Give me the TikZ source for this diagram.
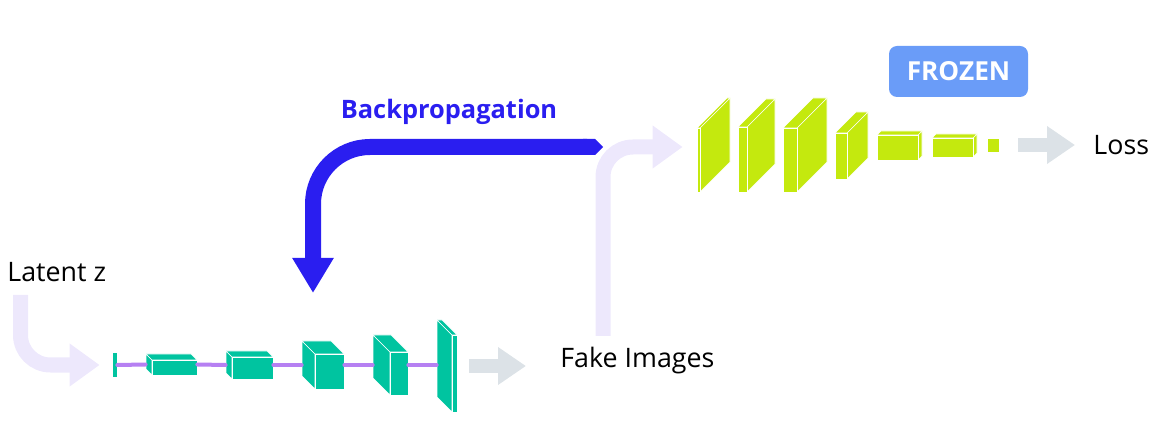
\documentclass[tikz,border=0pt]{standalone}
\usepackage{fontspec}
\setmainfont{Open Sans}
\usepackage{tikz}
\usetikzlibrary{arrows.meta}

\definecolor{genteal}{RGB}{0,196,160}
\definecolor{disclime}{RGB}{196,233,14}
\definecolor{linkpurple}{RGB}{182,128,242}
\definecolor{softlavender}{RGB}{237,232,252}
\definecolor{arrowgrey}{RGB}{220,226,231}
\definecolor{backblue}{RGB}{42,30,240}
\definecolor{frozenblue}{RGB}{106,156,248}

% name, front x, front y, width, height, depth (signed), colour
\newcommand{\layer}[7]{%
  \pgfmathsetmacro\sidex{#6>0 ? #2+#4 : #2}%
  \fill[#7, draw=white, line width=0.3pt] (\sidex,#3) -- ++({#6},{-abs(#6)}) -- ++(0,#5) -- ++({-(#6)},{abs(#6)}) -- cycle;
  \fill[#7, draw=white, line width=0.3pt] (#2,#3) -- ++({#6},{-abs(#6)}) -- ++(#4,0) -- ++({-(#6)},{abs(#6)}) -- cycle;
  \fill[#7, draw=white, line width=0.3pt] (#2,#3) rectangle ++(#4,#5);
  \node (#1) at ({#2+min(0,#6)+(#4+abs(#6))/2},{#3+(#5-abs(#6))/2}) [layerbox, minimum width={(#4+abs(#6))*0.5pt}, minimum height={(#5+abs(#6))*0.5pt}] {};
}

\begin{document}
\begin{tikzpicture}[x=0.5pt, y=-0.5pt,
        textlabel/.style={inner sep=0pt, font=\fontsize{13.4}{16}\selectfont},
        layerbox/.style={inner sep=0pt},
        frozenbox/.style={fill=frozenblue, rounded corners=4pt, inner sep=0pt, minimum width=69.5pt, minimum height=25.5pt, text=white, font=\bfseries\fontsize{13.1}{16}\selectfont},
        softarrow/.style={draw=softlavender, line width=7.5pt, rounded corners=15pt, -{Triangle[length=15pt, width=20.5pt]}},
        greyarrow/.style={draw=arrowgrey, line width=7pt, -{Triangle[length=14pt, width=18pt]}},
        backarrow/.style={draw=backblue, line width=8pt, rounded corners=28.5pt, {Triangle Cap}-{Triangle[length=17.5pt, width=19.5pt]}},
        link/.style={draw=linkpurple, line width=2pt, line cap=round},
    ]
    \useasboundingbox (0,0) rectangle (1159,426);

    \node (bar) at (115,365) [layerbox, fill=genteal, minimum width=2pt, minimum height=12pt] {};
    \layer{g1}{152}{360}{45}{15}{-6}{genteal}
    \layer{g2}{232}{357}{41}{22}{-6}{genteal}
    \layer{g3}{315}{354}{29}{35}{-13}{genteal}
    \layer{g4}{390}{352}{18}{43}{-17}{genteal}
    \layer{g5}{452}{335}{5}{77}{-15}{genteal}

    \layer{d1}{697}{128}{3}{64}{30}{disclime}
    \layer{d2}{738}{127}{9}{65}{28}{disclime}
    \layer{d3}{783}{128}{14}{64}{30}{disclime}
    \layer{d4}{835}{133}{12}{46}{21}{disclime}
    \layer{d5}{877}{135}{41}{25}{4}{disclime}
    \layer{d6}{932}{138}{41}{19}{4}{disclime}
    \layer{d7}{987}{138}{12}{14}{0}{disclime}

    \draw[link] (bar.east) -- (g1.west);
    \draw[link] (g1.east) -- (g2.west);
    \draw[link] (g2.east) -- (g3.west);
    \draw[link] (g3.east) -- (g4.west);
    \draw[link] (g4.east) -- (g4.east -| g5.west);

    \node (latent) at (7,282) [textlabel, anchor=base west] {Latent z};
    \node (fake) at (560,367) [textlabel, anchor=base west] {Fake Images};
    \node (loss) at (1093,155) [textlabel, anchor=base west] {Loss};
    \node (backprop) at (449,119) [textlabel, anchor=base, text=backblue, font=\bfseries\fontsize{12.7}{15}\selectfont] {Backpropagation};
    \node (frozen) at (958.5,71.5) [frozenbox] {FROZEN};

    \coordinate (zin) at (20.5,295);
    \coordinate (fin) at (603,336);
    \coordinate (bstart) at (603,147);
    \coordinate (bend) at (313,293);

    \draw[backarrow] (bstart) -| (bend);
    \draw[softarrow, shorten >=6.5pt] (zin) |- (bar.west);
    \draw[softarrow, shorten >=7pt] (fin) |- (d1.west |- bstart);
    \draw[greyarrow, shorten <=6pt, shorten >=17pt] (g5.east) -- (g5.east -| fake.west);
    \draw[greyarrow, shorten <=9.5pt, shorten >=9pt] (d7.east) -- (d7.east -| loss.west);
\end{tikzpicture}
\end{document}
